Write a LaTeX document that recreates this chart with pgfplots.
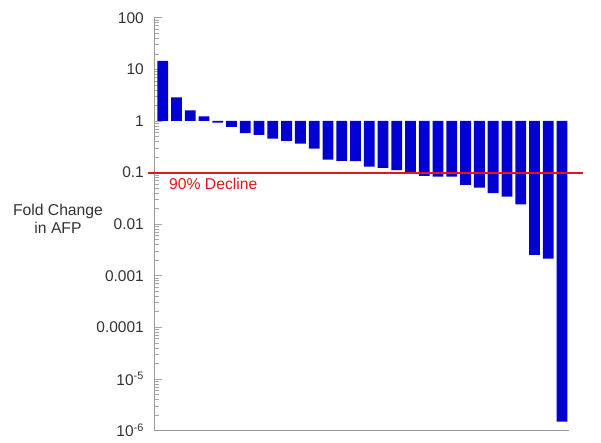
\documentclass[border=0pt]{standalone}
\usepackage{pgfplots}
\pgfplotsset{compat=1.18}
\usepackage{fontspec}
\setmainfont{Liberation Sans}
\definecolor{barblue}{RGB}{0,0,210}
\definecolor{linered}{RGB}{230,20,20}
\begin{document}
\begin{tikzpicture}
\useasboundingbox (-154pt,-12.5pt) rectangle (447pt,430.5pt);
\begin{axis}[
 at={(0pt,0pt)}, anchor=south west,
 scale only axis, width=415pt, height=412.7pt,
 ymode=log, ymin=1e-6, ymax=100, log origin y=0,
 xmin=0.368, xmax=30.51,
 axis x line*=bottom, axis y line*=left,
 axis line style={draw=black!40, line width=0.8pt, -},
 xtick=\empty,
 ytick={1e-6,1e-5,1e-4,1e-3,1e-2,1e-1,1,10,100},
 minor ytick={2e-6,3e-6,4e-6,5e-6,6e-6,7e-6,8e-6,9e-6,
  2e-5,3e-5,4e-5,5e-5,6e-5,7e-5,8e-5,9e-5,
  2e-4,3e-4,4e-4,5e-4,6e-4,7e-4,8e-4,9e-4,
  2e-3,3e-3,4e-3,5e-3,6e-3,7e-3,8e-3,9e-3,
  2e-2,3e-2,4e-2,5e-2,6e-2,7e-2,8e-2,9e-2,
  2e-1,3e-1,4e-1,5e-1,6e-1,7e-1,8e-1,9e-1,
  2,3,4,5,6,7,8,9,
  20,30,40,50,60,70,80,90},
 yticklabels={10\textsuperscript{-6},10\textsuperscript{-5},0.0001,0.001,0.01,0.1,1,10,100},
 tick align=inside,
 major tick length=8pt, minor tick length=5pt,
 every tick/.style={draw=black!35, line width=0.6pt},
 yticklabel style={font=\fontsize{15.5}{18}\selectfont, text=black!80, inner sep=0pt, xshift=-10pt},
 /pgf/number format/assume math mode=true,
 clip=false,
]
\addplot[ybar, bar width=10.8pt, fill=barblue, draw=none] coordinates {
(1,14.7) (2,2.88) (3,1.61) (4,1.23) (5,0.93) (6,0.77) (7,0.58) (8,0.54)
(9,0.455) (10,0.41) (11,0.364) (12,0.291) (13,0.178) (14,0.168) (15,0.166)
(16,0.13) (17,0.123) (18,0.112) (19,0.101) (20,0.086) (21,0.083) (22,0.083)
(23,0.058) (24,0.051) (25,0.040) (26,0.034) (27,0.0243) (28,0.00253)
(29,0.00215) (30,1.48e-6)
};
\addplot[linered, line width=2pt, mark=none] coordinates {(-0.07,0.1) (31.53,0.1)};
\node[anchor=west, text=linered, font=\fontsize{15.7}{18}\selectfont, inner sep=0pt] at (axis cs:1.457,0.060) {90\% Decline};
\end{axis}
\node[align=center, font=\fontsize{15.7}{18}\selectfont, text=black!80] at (-96pt,212pt) {Fold Change\\in AFP};
\end{tikzpicture}
\end{document}
